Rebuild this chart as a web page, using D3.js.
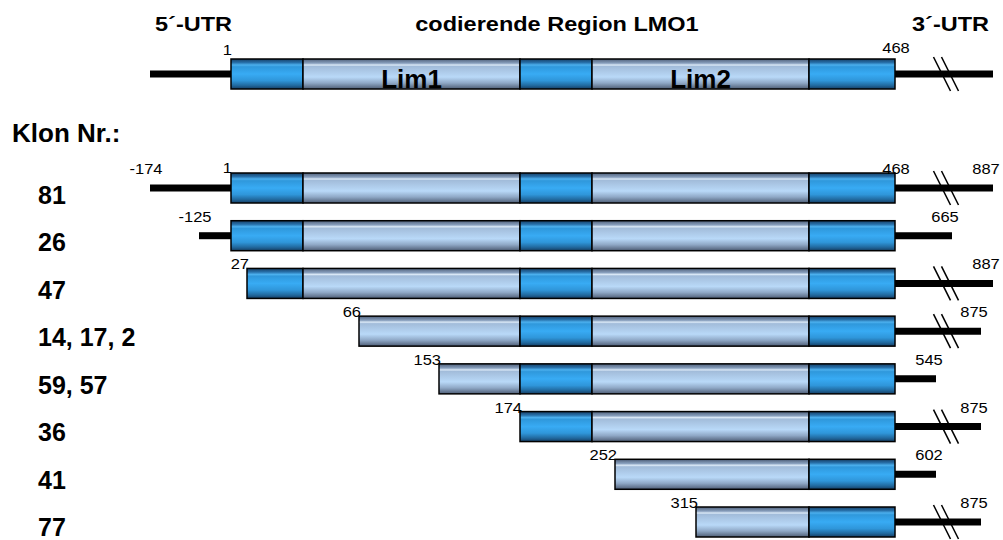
<!DOCTYPE html>
<html><head><meta charset="utf-8">
<script src="https://cdn.jsdelivr.net/npm/d3@7"></script>
<style>body{margin:0;background:#fff}svg{display:block}</style></head>
<body><svg id="c" width="1003" height="540"></svg>
<script>
// ---------- data ----------
const clones = ["81", "26", "47", "14, 17, 2", "59, 57", "36", "41", "77"];
const cloneStart = [-174, -125, 27, 66, 153, 174, 252, 315];
const cloneEnd = [887, 665, 887, 875, 545, 875, 602, 875];
const showCodingBounds = [true, false, false, false, false, false, false, false];
const codingStart = 1, codingEnd = 468;
const domainStart = [1, 47, 174, 233, 402];
const domainEnd = [47, 174, 233, 402, 468];
const domainKind = ["zf", "lim", "zf", "lim", "zf"];
const domainName = ["", "Lim1", "", "Lim2", ""];
const geneUTR = [-174, 887];
const headers = ["5´-UTR", "codierende Region LMO1", "3´-UTR"];
const rowTitle = "Klon Nr.:";
const truncatedAbove = 700;

// ---------- schematic scales ----------
const ntAnchor = [-174, -125, 1, 27, 47, 66, 153, 174, 233, 252, 315, 402, 468, 545, 602, 665, 875, 887];
const pxAnchor = [150, 199, 231, 247, 303, 359, 439, 520, 592, 615, 696, 809, 895, 936, 936, 952, 981, 993];
const x = d3.scaleLinear().domain(ntAnchor).range(pxAnchor);
const y = d3.scalePoint().domain(clones).range([188, 522]);
const yLabel = d3.scalePoint().domain(clones).range([204, 536]);
const geneY = 74, barH = 30, utrW = 7, breakX = 946;
const FONT = "'Liberation Sans', Arial, Helvetica, sans-serif";
const SX = 1.1; // horizontal stretch of the drawing's text

const svg = d3.select("#c");
const defs = svg.append("defs");
function grad(id, stops) {
  const g = defs.append("linearGradient").attr("id", id)
    .attr("x1", 0).attr("y1", 0).attr("x2", 0).attr("y2", 1);
  stops.forEach(s => g.append("stop").attr("offset", s[0]).attr("stop-color", s[1]));
}
grad("gzf", [[0, "#173f66"], [0.12, "#2770aa"], [0.2, "#4cb0ee"], [0.26, "#2f98dc"], [0.5, "#38abf4"], [0.72, "#2f96da"], [0.88, "#216aa0"], [1, "#153e64"]]);
grad("glim", [[0, "#4f607a"], [0.14, "#889fbd"], [0.2, "#dbe9f7"], [0.25, "#a2bcda"], [0.6, "#b9d9f8"], [0.8, "#8fa8c6"], [1, "#4e5d75"]]);

function stext(g, str, px, py, size, anchor, weight, sx) {
  return g.append("text")
    .attr("transform", `translate(${px},${py}) scale(${sx},1)`)
    .attr("text-anchor", anchor)
    .attr("font-family", FONT).attr("font-size", size).attr("font-weight", weight)
    .attr("fill", "#000").text(str);
}

function breakMark(g, cy) {
  [-4, 4].forEach(o => g.append("line")
    .attr("x1", breakX + o - 8.5).attr("y1", cy - 17)
    .attr("x2", breakX + o + 8.5).attr("y2", cy + 17)
    .attr("stroke", "#000").attr("stroke-width", 1.5));
}

function drawRow(g, cy, s, e) {
  const from = Math.max(s, codingStart);
  if (s < codingStart) g.append("line").attr("x1", x(s)).attr("x2", x(codingStart))
    .attr("y1", cy).attr("y2", cy).attr("stroke", "#000").attr("stroke-width", utrW);
  if (e > codingEnd) g.append("line").attr("x1", x(codingEnd)).attr("x2", x(e))
    .attr("y1", cy).attr("y2", cy).attr("stroke", "#000").attr("stroke-width", utrW);
  if (e > truncatedAbove) breakMark(g, cy);
  domainStart.forEach((ds, i) => {
    const a = Math.max(ds, from), b = domainEnd[i];
    if (b <= a) return;
    g.append("rect").attr("x", x(a)).attr("y", cy - barH / 2)
      .attr("width", x(b) - x(a)).attr("height", barH)
      .attr("fill", `url(#g${domainKind[i]})`)
      .attr("stroke", "#000").attr("stroke-width", 1.5);
  });
}

// headers
stext(svg, headers[0], 155, 31, 21, "start", "bold", 1.12);
stext(svg, headers[1], 557, 31, 21, "middle", "bold", 1.12);
stext(svg, headers[2], 912, 31, 21, "start", "bold", 1.12);

// gene model
const gene = svg.append("g");
drawRow(gene, geneY, geneUTR[0], geneUTR[1]);
domainName.forEach((n, i) => {
  if (!n) return;
  stext(gene, n, (x(domainStart[i]) + x(domainEnd[i])) / 2, geneY + 14, 26, "middle", "bold", 1);
});
stext(gene, String(codingStart), x(codingStart) + 1, geneY - 19, 15, "end", "normal", SX);
stext(gene, String(codingEnd), x(codingEnd) + 1, geneY - 21, 15, "middle", "normal", SX);

// row title
stext(svg, rowTitle, 12, 142, 26, "start", "bold", 1);

// clones
clones.forEach((c, i) => {
  const g = svg.append("g");
  const cy = y(c), top = cy - barH / 2;
  const s = cloneStart[i], e = cloneEnd[i];
  drawRow(g, cy, s, e);
  stext(g, c, 38, yLabel(c), 25, "start", "bold", 1);
  if (s < codingStart) stext(g, String(s), x(s) - 4, top + 1, 15, "middle", "normal", SX);
  else stext(g, String(s), x(s) + 2, top + 1, 15, "end", "normal", SX);
  stext(g, String(e), x(e) - 7, top + 1, 15, "middle", "normal", SX);
  if (showCodingBounds[i]) {
    stext(g, String(codingStart), x(codingStart) + 1, top, 15, "end", "normal", SX);
    stext(g, String(codingEnd), x(codingEnd) + 1, top + 1, 15, "middle", "normal", SX);
  }
});
</script></body></html>
